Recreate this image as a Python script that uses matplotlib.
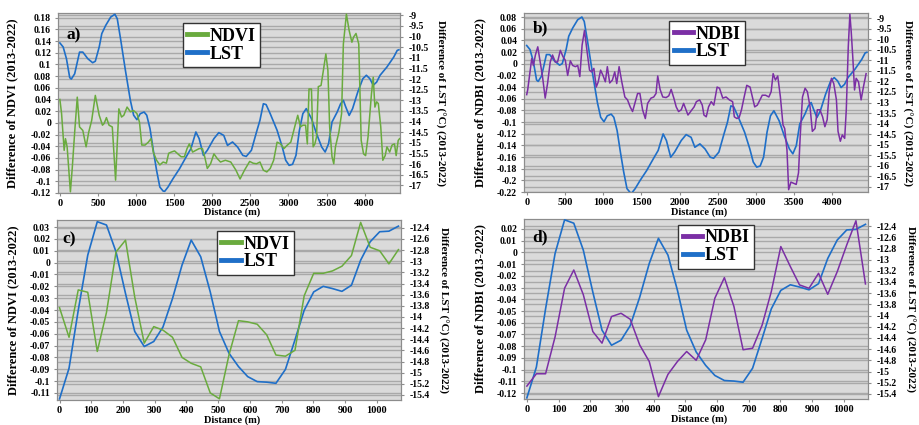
import numpy as np
import matplotlib
matplotlib.use("Agg")
import matplotlib.pyplot as plt
from matplotlib.lines import Line2D

plt.rcParams['axes.unicode_minus'] = False
plt.rcParams['font.family'] = ['Liberation Serif', 'DejaVu Serif']
plt.rcParams['font.weight'] = 'bold'

# ---------------- data: long transect (panels a, b) ----------------
LST_LONG_D = [0, 43, 86, 129, 150, 194, 258, 301, 366, 430, 465, 516, 550, 602, 667, 722, 753, 796,
              860, 925, 968, 1011, 1054, 1105, 1140, 1183, 1226, 1269, 1312, 1355, 1376, 1419, 1484,
              1570, 1656, 1720, 1785, 1828, 1884, 1935, 2022, 2086, 2151, 2200, 2266, 2333, 2401,
              2446, 2514, 2581, 2626, 2671, 2707, 2761, 2851, 2919, 2964, 3009, 3054, 3099, 3144,
              3189, 3234, 3302, 3369, 3437, 3482, 3527, 3572, 3640, 3685, 3721, 3752, 3797, 3842,
              3910, 3977, 4023, 4068, 4113, 4158, 4203, 4293, 4383, 4428, 4450]
LST_LONG = [-10.30, -10.49, -11.04, -11.93, -12.00, -11.75, -10.73, -10.73, -11.04, -11.23, -11.16,
            -10.49, -9.86, -9.47, -9.08, -8.95, -9.16, -10.10, -11.59, -13.00, -13.70, -13.91,
            -13.63, -13.55, -13.70, -14.33, -15.35, -16.29, -17.08, -17.27, -17.28, -17.08, -16.69,
            -16.22, -15.67, -15.27, -14.49, -14.80, -15.59, -15.35, -14.80, -14.52, -14.65, -15.12,
            -14.96, -15.20, -15.59, -15.64, -15.35, -14.49, -13.94, -13.16, -13.20, -13.63, -14.41,
            -15.20, -15.82, -16.06, -16.01, -15.59, -14.41, -13.63, -13.39, -13.86, -14.57, -15.20,
            -15.43, -15.04, -14.02, -13.55, -13.16, -13.00, -13.31, -13.71, -13.39, -12.61, -11.98,
            -11.82, -11.98, -12.29, -12.14, -11.82, -11.43, -10.96, -10.65, -10.62]

NDVI_LONG_D = [0, 22, 56, 73, 95, 138, 163, 194, 228, 258, 301, 344, 378, 417, 465, 516, 559, 581,
               611, 645, 688, 731, 774, 809, 839, 882, 925, 968, 1011, 1045, 1075, 1118, 1161, 1196,
               1226, 1269, 1312, 1355, 1398, 1428, 1462, 1505, 1548, 1591, 1634, 1669, 1699, 1742,
               1785, 1828, 1871, 1901, 1935, 1978, 2022, 2065, 2108, 2172, 2243, 2311, 2365, 2423,
               2491, 2536, 2581, 2626, 2671, 2716, 2761, 2806, 2851, 2896, 2941, 2986, 3031, 3076,
               3122, 3158, 3189, 3225, 3248, 3270, 3302, 3324, 3347, 3369, 3392, 3428, 3459, 3491,
               3518, 3541, 3572, 3595, 3617, 3662, 3698, 3721, 3761, 3797, 3833, 3856, 3887, 3923,
               3955, 3986, 4013, 4045, 4090, 4113, 4135, 4158, 4180, 4212, 4239, 4270, 4293, 4329,
               4360, 4392, 4414, 4441, 4459]
NDVI_LONG = [0.040, 0.016, -0.047, -0.027, -0.041, -0.118, -0.076, -0.016, 0.044, -0.007, -0.013,
             -0.041, -0.016, 0.004, 0.047, 0.013, -0.004, -0.001, 0.009, -0.004, -0.007, -0.098,
             0.024, 0.010, 0.013, 0.027, 0.019, 0.021, 0.016, 0.001, -0.038, -0.038, -0.033,
             -0.027, -0.050, -0.064, -0.072, -0.067, -0.069, -0.052, -0.050, -0.048, -0.053,
             -0.058, -0.058, -0.044, -0.036, -0.050, -0.047, -0.044, -0.044, -0.058, -0.078,
             -0.070, -0.053, -0.061, -0.067, -0.064, -0.067, -0.081, -0.096, -0.081, -0.066,
             -0.069, -0.070, -0.067, -0.081, -0.084, -0.078, -0.064, -0.033, -0.036, -0.044,
             -0.038, -0.033, -0.010, 0.013, -0.007, -0.004, -0.004, -0.036, 0.058, 0.058, -0.041,
             -0.036, -0.024, 0.062, 0.064, 0.090, 0.118, 0.090, -0.007, -0.058, -0.070, -0.041,
             -0.016, 0.016, 0.135, 0.186, 0.158, 0.138, 0.147, 0.153, 0.135, -0.030, -0.053,
             -0.056, -0.024, 0.050, 0.078, 0.027, 0.036, 0.033, -0.007, -0.064, -0.056, -0.041,
             -0.050, -0.038, -0.036, -0.056, -0.030, -0.027]

NDBI_LONG_D = [0, 13, 44, 66, 88, 114, 145, 176, 207, 242, 273, 308, 338, 374, 404, 440, 475, 505,
               536, 571, 602, 637, 668, 695, 725, 756, 791, 822, 848, 879, 910, 936, 967, 998, 1029,
               1055, 1086, 1121, 1152, 1178, 1209, 1244, 1284, 1319, 1354, 1385, 1415, 1451, 1481,
               1516, 1552, 1582, 1626, 1662, 1692, 1714, 1745, 1780, 1824, 1859, 1890, 1925, 1956,
               1987, 2022, 2053, 2079, 2110, 2145, 2190, 2220, 2263, 2297, 2319, 2349, 2379, 2414,
               2448, 2491, 2522, 2565, 2608, 2651, 2694, 2716, 2750, 2780, 2810, 2845, 2879, 2922,
               2953, 2983, 3017, 3052, 3082, 3125, 3168, 3198, 3224, 3254, 3284, 3319, 3353, 3375,
               3405, 3427, 3457, 3491, 3526, 3556, 3578, 3608, 3642, 3672, 3707, 3737, 3772, 3802,
               3836, 3871, 3901, 3931, 3957, 3987, 4017, 4052, 4073, 4103, 4129, 4160, 4181, 4207,
               4228, 4246, 4267, 4289, 4310, 4341, 4375, 4405, 4440]
NDBI_LONG = [-0.053, -0.045, -0.014, 0.009, -0.003, 0.015, 0.029, 0.003, -0.022, -0.059, -0.034,
             0.003, 0.015, 0.003, 0.003, 0.023, 0.012, 0.006, -0.020, 0.005, -0.003, -0.005,
             -0.003, -0.022, 0.032, 0.057, 0.020, -0.011, -0.014, -0.008, -0.040, -0.031, -0.011,
             -0.020, -0.031, -0.005, -0.033, -0.028, -0.014, -0.034, -0.005, -0.031, -0.057,
             -0.062, -0.074, -0.082, -0.068, -0.051, -0.051, -0.079, -0.094, -0.068, -0.059,
             -0.057, -0.051, -0.021, -0.044, -0.057, -0.058, -0.055, -0.044, -0.059, -0.074,
             -0.082, -0.079, -0.068, -0.077, -0.088, -0.082, -0.074, -0.065, -0.062, -0.071,
             -0.088, -0.091, -0.074, -0.065, -0.071, -0.040, -0.042, -0.059, -0.057, -0.062,
             -0.065, -0.091, -0.094, -0.092, -0.079, -0.057, -0.037, -0.040, -0.057, -0.074,
             -0.071, -0.062, -0.054, -0.054, -0.057, -0.048, -0.017, -0.028, -0.021, -0.057,
             -0.105, -0.111, -0.148, -0.216, -0.203, -0.205, -0.207, -0.187, -0.125, -0.057,
             -0.042, -0.048, -0.074, -0.116, -0.111, -0.079, -0.079, -0.091, -0.108, -0.096,
             -0.048, -0.025, -0.034, -0.062, -0.116, -0.133, -0.122, -0.128, -0.079, 0.029,
             0.085, 0.054, 0.009, -0.045, -0.025, -0.031, -0.062, -0.040, -0.017]

# ---------------- data: short transect (panels c, d) ----------------
SHORT_D = [0, 30, 59, 89, 119, 148, 178, 208, 237, 267, 297, 326, 356, 386, 415, 445, 475, 504, 534,
           564, 593, 623, 653, 682, 712, 742, 771, 801, 831, 860, 890, 920, 949, 979, 1009, 1038, 1068]
LST_SHORT = [-15.47, -14.92, -13.88, -12.89, -12.29, -12.35, -12.83, -13.58, -14.26, -14.53, -14.44,
             -14.18, -13.67, -13.07, -12.62, -12.92, -13.55, -14.26, -14.65, -14.89, -15.07, -15.16,
             -15.17, -15.19, -14.94, -14.41, -13.88, -13.55, -13.45, -13.49, -13.54, -13.43, -12.98,
             -12.65, -12.47, -12.46, -12.37]
NDVI_SHORT = [-0.038, -0.063, -0.023, -0.025, -0.075, -0.042, 0.009, 0.019, -0.029, -0.068, -0.054,
              -0.057, -0.063, -0.080, -0.085, -0.088, -0.110, -0.115, -0.078, -0.049, -0.050,
              -0.052, -0.061, -0.078, -0.079, -0.074, -0.028, -0.009, -0.009, -0.007, -0.003,
              0.006, 0.034, 0.013, 0.010, -0.001, 0.011]
NDBI_SHORT = [-0.114, -0.1035, -0.1035, -0.072, -0.0305, -0.015, -0.036, -0.0675, -0.0774, -0.0547,
              -0.0519, -0.057, -0.079, -0.093, -0.123, -0.104, -0.093, -0.0845, -0.092, -0.0746,
              -0.039, -0.0215, -0.046, -0.083, -0.0817, -0.062, -0.0334, 0.005, -0.012, -0.0277,
              -0.0306, -0.0178, -0.0357, -0.0164, 0.0064, 0.027, -0.0269]

# ---------------- ticks ----------------
X_TICKS_LONG = [0, 500, 1000, 1500, 2000, 2500, 3000, 3500, 4000]
X_TICKS_SHORT = [0, 100, 200, 300, 400, 500, 600, 700, 800, 900, 1000]
A_LEFT_TICKS = [round(v, 2) for v in np.arange(-0.12, 0.181, 0.02)]
B_LEFT_TICKS = [round(v, 2) for v in np.arange(-0.22, 0.081, 0.02)]
C_LEFT_TICKS = [round(v, 2) for v in np.arange(-0.11, 0.031, 0.01)]
D_LEFT_TICKS = [round(v, 2) for v in np.arange(-0.12, 0.021, 0.01)]
LONG_RIGHT_TICKS = [round(v, 1) for v in np.arange(-17, -8.99, 0.5)]
SHORT_RIGHT_TICKS = [round(v, 1) for v in np.arange(-15.4, -12.39, 0.2)]

GREEN = '#6aab3e'
BLUE = '#1f6fc8'
PURPLE = '#7b2fa5'
BG = '#dadada'
GRID = '#a9a9a9'
SPINE = '#8c8c8c'


def fmt(v):
    v = v + 0.0
    if abs(v) < 1e-9:
        return '0'
    return f"{v:g}"


fig = plt.figure(figsize=(9.19, 4.25), dpi=100)


def panel(rect, letter, idx_x, idx_y, idx_name, idx_color, idx_lim, idx_ticks,
          lst_x, lst_y, lst_lim, lst_ticks, xlim, xticks, leg_xy, letter_xy,
          lab_left_x, lab_right_x, xlab_y):
    ax = fig.add_axes(rect)
    ax.set_facecolor(BG)
    ax.set_xlim(*xlim)
    ax.set_ylim(*idx_lim)
    ax.set_yticks(idx_ticks)
    ax.set_yticklabels([fmt(v) for v in idx_ticks])
    ax.set_xticks(xticks)
    ax.set_xticklabels([str(v) for v in xticks])
    ax.grid(axis='y', color=GRID, lw=1.0)
    ax.set_axisbelow(True)
    ax.tick_params(axis='y', labelsize=7, length=2.5, width=0.8, color=SPINE, pad=2.5)
    ax.tick_params(axis='x', labelsize=7.5, length=2.5, width=0.8, color=SPINE, pad=1.5)
    for s in ax.spines.values():
        s.set_color(SPINE)
        s.set_linewidth(0.8)

    ax2 = ax.twinx()
    ax2.set_ylim(*lst_lim)
    ax2.set_yticks(lst_ticks)
    ax2.set_yticklabels([fmt(v) for v in lst_ticks])
    ax2.grid(axis='y', color=GRID, lw=1.0)
    ax2.set_axisbelow(True)
    ax2.tick_params(axis='y', labelsize=7, length=2.5, width=0.8, color=SPINE, pad=3.5)
    for s in ax2.spines.values():
        s.set_color(SPINE)
        s.set_linewidth(0.8)
    ax2.plot(lst_x, lst_y, color=BLUE, lw=1.2, zorder=3)

    ax3 = ax.twinx()
    ax3.set_ylim(*idx_lim)
    ax3.set_axis_off()
    ax3.plot(idx_x, idx_y, color=idx_color, lw=1.1, zorder=3)

    for t in ax.get_yticklabels() + ax.get_xticklabels() + ax2.get_yticklabels():
        t.set_fontweight('bold')

    handles = [Line2D([], [], color=idx_color, lw=3.5), Line2D([], [], color=BLUE, lw=3.5)]
    leg = ax3.legend(handles, [idx_name, 'LST'], loc='upper left', bbox_to_anchor=leg_xy,
                     frameon=True, fancybox=False, edgecolor='#333333', framealpha=1,
                     prop={'family': 'Liberation Serif', 'weight': 'bold', 'size': 13},
                     handlelength=1.1, handletextpad=0.12, borderpad=0.25, labelspacing=0.05,
                     borderaxespad=0)
    leg.get_frame().set_linewidth(1.0)

    ax3.text(letter_xy[0], letter_xy[1], letter, transform=ax.transAxes, fontsize=12.5,
             fontweight='bold', ha='left', va='center')
    ax3.text(lab_left_x, 0.5, f'Difference of {idx_name} (2013-2022)', transform=ax.transAxes,
             rotation=90, ha='center', va='center', fontsize=9, fontweight='bold')
    ax3.text(lab_right_x, 0.5, 'Difference of LST (°C) (2013-2022)', transform=ax.transAxes,
             rotation=270, ha='center', va='center', fontsize=8, fontweight='bold')
    ax3.text(0.51, xlab_y, 'Distance (m)', transform=ax.transAxes, ha='center', va='center',
             fontsize=7.5, fontweight='bold')
    return ax


panel([0.0631, 0.5459, 0.3722, 0.4235], 'a)', NDVI_LONG_D, NDVI_LONG, 'NDVI', GREEN,
      (-0.12, 0.188), A_LEFT_TICKS, LST_LONG_D, LST_LONG, (-17.36, -8.89), LONG_RIGHT_TICKS,
      (-25, 4465), X_TICKS_LONG, (0.365, 0.944), (0.026, 0.878), -0.134, 1.117, -0.106)

panel([0.5702, 0.5482, 0.3743, 0.4212], 'b)', NDBI_LONG_D, NDBI_LONG, 'NDBI', PURPLE,
      (-0.22, 0.087), B_LEFT_TICKS, LST_LONG_D, LST_LONG, (-17.24, -8.76), LONG_RIGHT_TICKS,
      (-35, 4465), X_TICKS_LONG, (0.4215, 0.955), (0.026, 0.913), -0.128, 1.113, -0.11)

panel([0.0620, 0.0588, 0.3743, 0.4235], 'c)', SHORT_D, NDVI_SHORT, 'NDVI', GREEN,
      (-0.116, 0.036), C_LEFT_TICKS, SHORT_D, LST_SHORT, (-15.49, -12.26), SHORT_RIGHT_TICKS,
      (-8, 1076), X_TICKS_SHORT, (0.465, 0.939), (0.017, 0.894), -0.128, 1.122, -0.111)

panel([0.5702, 0.0612, 0.3743, 0.4235], 'd)', SHORT_D, NDBI_SHORT, 'NDBI', PURPLE,
      (-0.125, 0.0285), D_LEFT_TICKS, SHORT_D, LST_SHORT, (-15.49, -12.275), SHORT_RIGHT_TICKS,
      (-9, 1076), X_TICKS_SHORT, (0.448, 0.967), (0.023, 0.90), -0.128, 1.122, -0.111)

fig.savefig('out.png', dpi=100, facecolor='white')
